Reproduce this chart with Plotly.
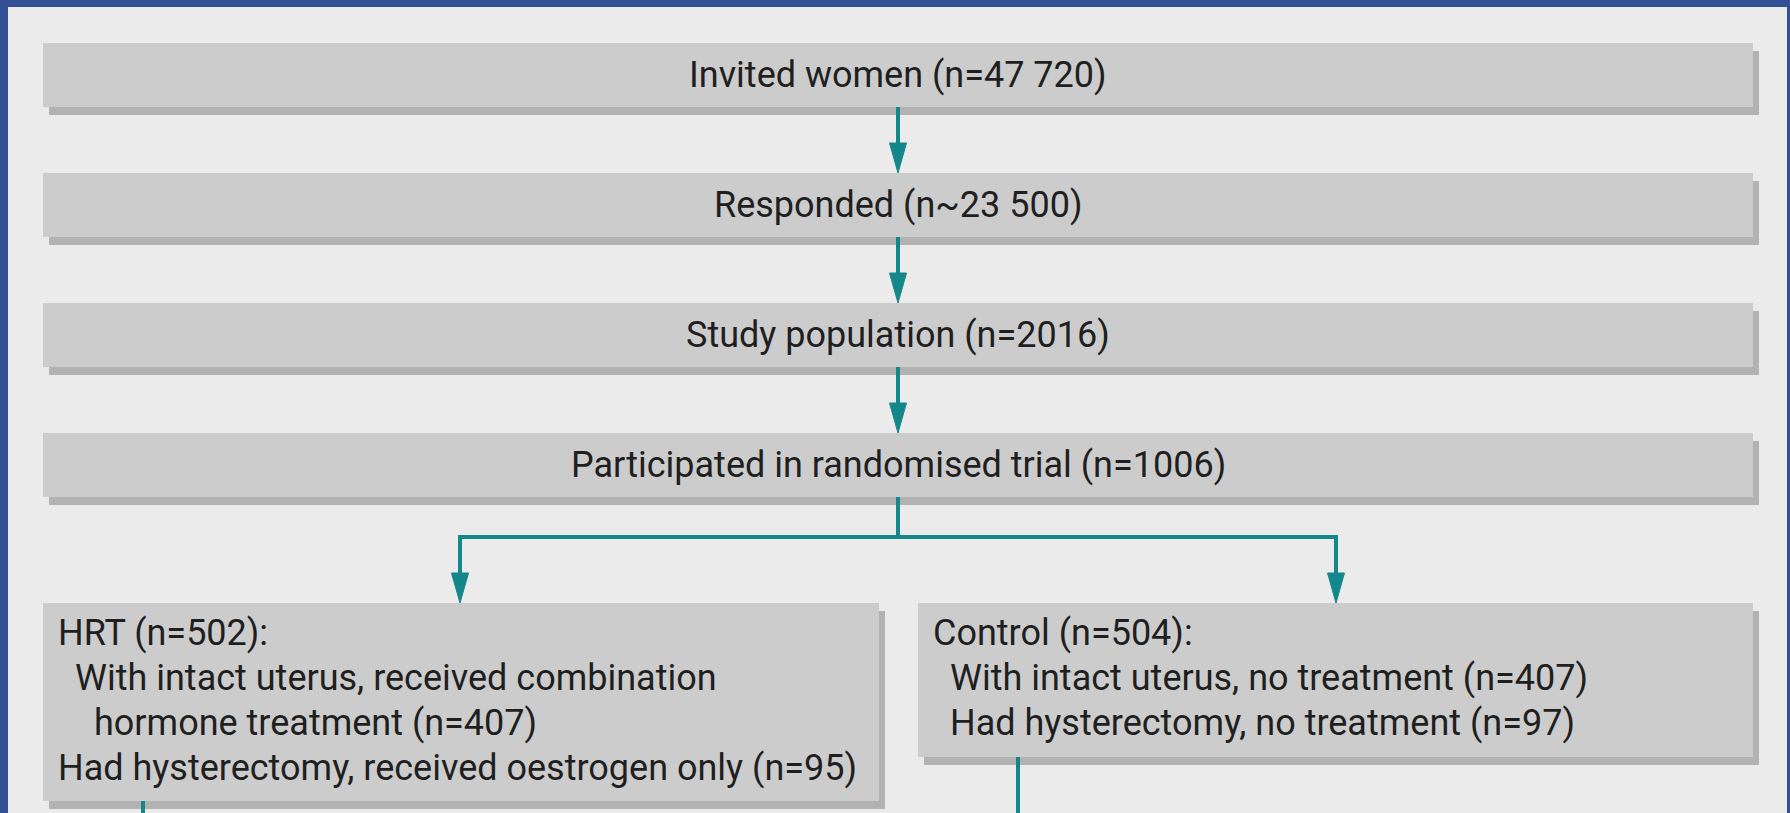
import plotly.graph_objects as go

# ---- data (text content of the flow chart) ----
step_names = ["Invited women", "Responded", "Study population", "Participated in randomised trial"]
step_counts = ["n=47 720", "n~23 500", "n=2016", "n=1006"]

arm_titles = ["HRT (n=502):", "Control (n=504):"]
hrt_lines = ["With intact uterus, received combination",
             "hormone treatment (n=407)",
             "Had hysterectomy, received oestrogen only (n=95)"]
hrt_indent = [1, 2, 0]
control_lines = ["With intact uterus, no treatment (n=407)",
                 "Had hysterectomy, no treatment (n=97)"]
control_indent = [1, 1]

# ---- styling / layout ----
W, H = 1790, 813
BG = "#ebebeb"
FRAME = "#334f95"
BOX = "#cccccc"
SHADOW = "#b2b2b2"
TEAL = "#14878a"
TXT = "#1f1f1f"
FONT = "Roboto"
FS = 36

shapes = []
annotations = []


def box(x0, y0, x1, y1):
    shapes.append(dict(type="rect", xref="x", yref="y", x0=x0 + 6, y0=y0 + 8, x1=x1 + 6, y1=y1 + 8,
                       fillcolor=SHADOW, line_width=0, layer="below"))
    shapes.append(dict(type="rect", xref="x", yref="y", x0=x0, y0=y0, x1=x1, y1=y1,
                       fillcolor=BOX, line_width=0, layer="below"))


def vline(x, y0, y1):
    shapes.append(dict(type="line", xref="x", yref="y", x0=x, y0=y0, x1=x, y1=y1,
                       line=dict(color=TEAL, width=4), layer="above"))


def arrow(x, y0, y1, head=30, half=8.5):
    vline(x, y0, y1 - head + 2)
    shapes.append(dict(type="path", xref="x", yref="y",
                       path=f"M {x - half},{y1 - head} L {x + half},{y1 - head} L {x},{y1} Z",
                       fillcolor=TEAL, line=dict(color=TEAL, width=1), layer="above"))


def text(x, y, s, anchor="center"):
    annotations.append(dict(x=x, y=y, xref="x", yref="y", text=s, showarrow=False,
                            xanchor=anchor, yanchor="middle",
                            font=dict(family=FONT, size=FS, color=TXT)))


# frame interior
shapes.append(dict(type="rect", xref="x", yref="y", x0=8, y0=7, x1=1787, y1=H + 5,
                   fillcolor=BG, line_width=0, layer="below"))

# top steps
BX0, BX1 = 43, 1753
CX = (BX0 + BX1) / 2
top0, bh, gap = 43, 64, 130
for i, (name, cnt) in enumerate(zip(step_names, step_counts)):
    y0 = top0 + i * gap
    box(BX0, y0, BX1, y0 + bh)
    text(CX, y0 + bh / 2, f"{name} ({cnt})")
    if i < len(step_names) - 1:
        arrow(CX, y0 + bh, y0 + gap)

# branching
last_bottom = top0 + (len(step_names) - 1) * gap + bh
split_y = 537
LX, RX = 460, 1336
arm_top = 603
vline(CX, last_bottom, split_y)
shapes.append(dict(type="line", xref="x", yref="y", x0=LX - 2, y0=split_y, x1=RX + 2, y1=split_y,
                   line=dict(color=TEAL, width=4), layer="above"))
arrow(LX, split_y, arm_top)
arrow(RX, split_y, arm_top)

# arm boxes
line_h = 45
first_c = 633
indent_px = [0, 17, 36]

hrt_box = (43, arm_top, 879, 801)
ctl_box = (918, arm_top, 1753, 757)
box(*hrt_box)
box(*ctl_box)

text(hrt_box[0] + 13, first_c, arm_titles[0], "left")
for k, (s, ind) in enumerate(zip(hrt_lines, hrt_indent)):
    text(hrt_box[0] + 13 + indent_px[ind], first_c + (k + 1) * line_h, s, "left")

text(ctl_box[0] + 13, first_c, arm_titles[1], "left")
for k, (s, ind) in enumerate(zip(control_lines, control_indent)):
    text(ctl_box[0] + 13 + indent_px[ind], first_c + (k + 1) * line_h, s, "left")

# continuing lines below arms
vline(143, hrt_box[3], H + 5)
vline(1018, ctl_box[3], H + 5)

fig = go.Figure()
fig.add_trace(go.Scatter(x=[0, W], y=[0, H], mode="markers", marker=dict(opacity=0),
                         hoverinfo="skip", showlegend=False))
fig.update_layout(
    width=W, height=H, margin=dict(l=0, r=0, t=0, b=0),
    paper_bgcolor=FRAME, plot_bgcolor=FRAME,
    shapes=shapes, annotations=annotations, showlegend=False,
    xaxis=dict(range=[0, W], visible=False, fixedrange=True),
    yaxis=dict(range=[H, 0], visible=False, fixedrange=True),
)
fig.write_html("out.html", config={"displayModeBar": False},
               post_script="document.body.style.margin='0';document.body.style.overflow='hidden';")
